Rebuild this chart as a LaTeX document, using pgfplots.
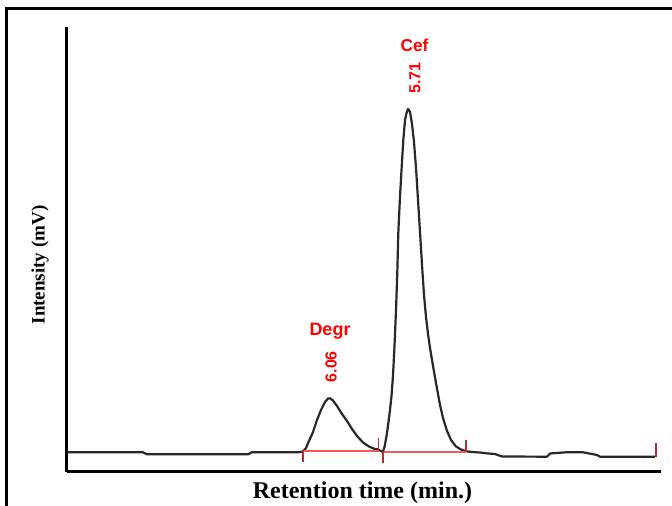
\documentclass[border=0pt]{standalone}
\usepackage{fontspec}
\setmainfont{Liberation Serif}
\newfontfamily\sansf{Liberation Sans}
\usepackage{pgfplots}
\pgfplotsset{compat=1.18}
\definecolor{pinkred}{RGB}{245,90,90}
\definecolor{tickred}{RGB}{190,40,50}
\definecolor{labred}{RGB}{255,0,0}
\definecolor{curve}{RGB}{40,40,40}
\begin{document}
\begin{tikzpicture}
\begin{axis}[
  scale only axis,
  width=297pt, height=222.5pt,
  xmin=67, xmax=661, ymin=0, ymax=445,
  axis lines=left,
  axis line style={line width=1.5pt,-},
  xtick=\empty, ytick=\empty,
  clip=false,
]
% chromatogram trace
\addplot[curve, line width=1.1pt, line join=round] coordinates {
(67,19.7) (143,19.7) (147,17.7) (248,17.7) (252,19.7) (298,19.7)
(303,20.5) (306,24) (309,31) (313,40) (317,52) (321,62) (325,70) (328,73.5) (330,73.7)
(333,71.5) (337,66) (342,58) (347,51) (352,43) (357,36) (363,29.5) (369,25.5) (374,23.3)
(378,22.5) (381,21) (382.7,20)
(384.5,25) (386.7,37) (388.5,50) (390,62) (391.5,76) (392.7,92) (393.5,106) (394.3,122)
(395.1,140) (396,162) (396.7,182) (397.3,200) (398.3,239) (400,275.3) (401.7,305.3)
(403.3,332) (405,352) (406.5,359) (408,363) (410,360) (412,348) (414,330) (416,304)
(418,272) (420,240) (422,207) (424,177) (426,155) (428,138) (430,124) (433,106) (436,89)
(440,67) (443,54) (447,41) (451,32) (456,25.5) (461,22.5) (466,20.7) (472,20) (480,19.5)
(486,18.7) (495,18) (502,15.5) (547,15.3) (550,18.5) (566,19.7) (583,19.7) (597,17)
(600,15.3) (655,15.3)
};
% integration baselines
\addplot[pinkred, line width=1pt] coordinates {(303,21.3) (378.5,21.3)};
\addplot[pinkred, line width=1pt] coordinates {(383,20.3) (466,20.3)};
% integration ticks
\addplot[tickred, line width=0.8pt] coordinates {(303,22) (303,10)};
\addplot[tickred, line width=0.8pt] coordinates {(378.5,34) (378.5,21)};
\addplot[tickred, line width=0.8pt] coordinates {(383,21) (383,9)};
\addplot[tickred, line width=0.8pt] coordinates {(466,32) (466,20)};
\addplot[tickred, line width=0.8pt] coordinates {(656,29) (656,15)};
% peak labels
\node[labred, font=\sansf\bfseries\fontsize{8.6}{10}\selectfont] at (axis cs:414.5,427) {Cef};
\node[labred, rotate=90, font=\sansf\bfseries\fontsize{8}{10}\selectfont] at (axis cs:415,394) {5.71};
\node[labred, font=\sansf\bfseries\fontsize{9}{11}\selectfont] at (axis cs:330,141) {Degr};
\node[labred, rotate=90, font=\sansf\bfseries\fontsize{8}{10}\selectfont] at (axis cs:331,105.3) {6.06};
% axis labels
\node[rotate=90, font=\bfseries\fontsize{9.5}{11}\selectfont] at (axis cs:40,207) {Intensity (mV)};
\node[font=\bfseries\fontsize{12}{14}\selectfont] at (axis cs:362.5,-21) {Retention time (min.)};
% outer frame
\draw[line width=1.5pt] (axis cs:7,-80) -- (axis cs:7,463) -- (axis cs:720,463);
\coordinate (bbl) at (axis cs:0,-34);
\coordinate (btr) at (axis cs:672,472);
\end{axis}
\pgfresetboundingbox
\path[use as bounding box] (bbl) rectangle (btr);
\end{tikzpicture}
\end{document}
